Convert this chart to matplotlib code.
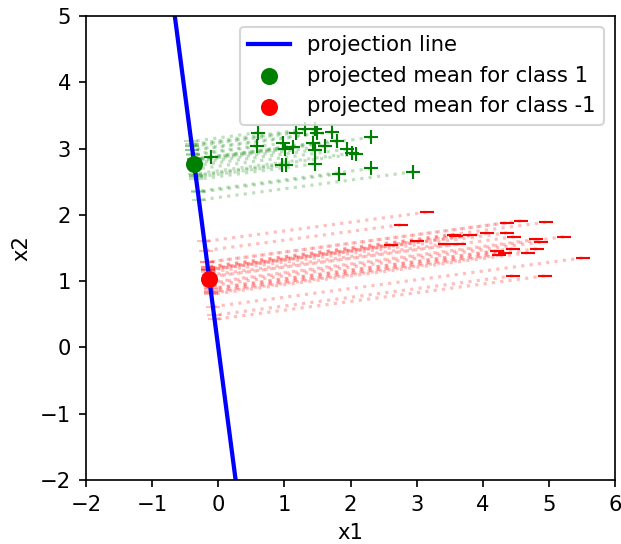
import numpy as np
import matplotlib
matplotlib.use('Agg')
import matplotlib.pyplot as plt

# class 1 samples (x1, x2)
class1_x1 = [0.60, 0.58, -0.11, 1.18, 1.31, 1.46, 1.49, 1.72, 1.79, 2.31,
             0.98, 1.01, 1.13, 1.43, 1.46, 1.61, 1.94, 2.02, 2.09, 0.96,
             1.03, 1.46, 1.83, 2.31, 2.95]
class1_x2 = [3.24, 3.04, 2.87, 3.24, 3.29, 3.29, 3.23, 3.25, 3.12, 3.17,
             3.08, 2.99, 3.03, 3.08, 2.98, 3.04, 2.99, 2.93, 2.92, 2.75,
             2.75, 2.77, 2.62, 2.70, 2.65]

# class -1 samples
class2_x1 = [3.15, 2.76, 4.36, 4.58, 4.96, 4.37, 4.06, 3.57, 3.80, 4.48,
             5.23, 4.81, 4.88, 3.00, 2.62, 3.43, 3.64, 4.45, 4.82, 4.68,
             4.21, 4.34, 4.24, 5.51, 4.46, 4.94, 3.60]
class2_x2 = [2.04, 1.85, 1.88, 1.91, 1.89, 1.73, 1.72, 1.70, 1.69, 1.67,
             1.67, 1.63, 1.59, 1.60, 1.54, 1.56, 1.56, 1.49, 1.49, 1.43,
             1.45, 1.43, 1.39, 1.35, 1.08, 1.08, 1.68]

# projection direction (unit vector, line goes through origin)
w = np.array([0.92, -7.0])
w = w / np.linalg.norm(w)


def project(X):
    return np.outer(X @ w, w)


def main():
    X1 = np.column_stack([class1_x1, class1_x2])
    X2 = np.column_stack([class2_x1, class2_x2])
    P1 = project(X1)
    P2 = project(X2)
    m1 = project(X1.mean(axis=0, keepdims=True))[0]
    m2 = project(X2.mean(axis=0, keepdims=True))[0]

    dpi = 152
    fig = plt.figure(figsize=(621 / dpi, 544 / dpi), dpi=dpi)
    ax = fig.add_axes([86 / 621, 1 - 480 / 544, (615 - 86) / 621, (480 - 16) / 544])

    # dotted connectors from samples to their projections
    for p, q in zip(X1, P1):
        ax.plot([p[0], q[0]], [p[1], q[1]], ':', color='green', alpha=0.25, lw=1.5)
    for p, q in zip(X2, P2):
        ax.plot([p[0], q[0]], [p[1], q[1]], ':', color='red', alpha=0.25, lw=1.5)

    # projected samples (faint)
    ax.plot(P1[:, 0], P1[:, 1], '+', color='green', alpha=0.25, ms=7)
    ax.plot(P2[:, 0], P2[:, 1], '_', color='red', alpha=0.25, ms=7)

    # projection line
    t = np.array([-10, 10])
    ax.plot(t * w[0], t * w[1], color='blue', lw=2, label='projection line')

    ax.plot(X1[:, 0], X1[:, 1], '+', color='green', ms=7)
    ax.plot(X2[:, 0], X2[:, 1], '_', color='red', ms=7)

    ax.scatter([m1[0]], [m1[1]], color='green', s=50, zorder=5,
               label='projected mean for class 1')
    ax.scatter([m2[0]], [m2[1]], color='red', s=50, zorder=5,
               label='projected mean for class -1')

    ax.set_xlim(-2, 6)
    ax.set_ylim(-2, 5)
    ax.set_xlabel('x1')
    ax.set_ylabel('x2')
    ax.legend(loc='upper right')

    fig.savefig('out.png', dpi=dpi)


if __name__ == '__main__':
    main()
